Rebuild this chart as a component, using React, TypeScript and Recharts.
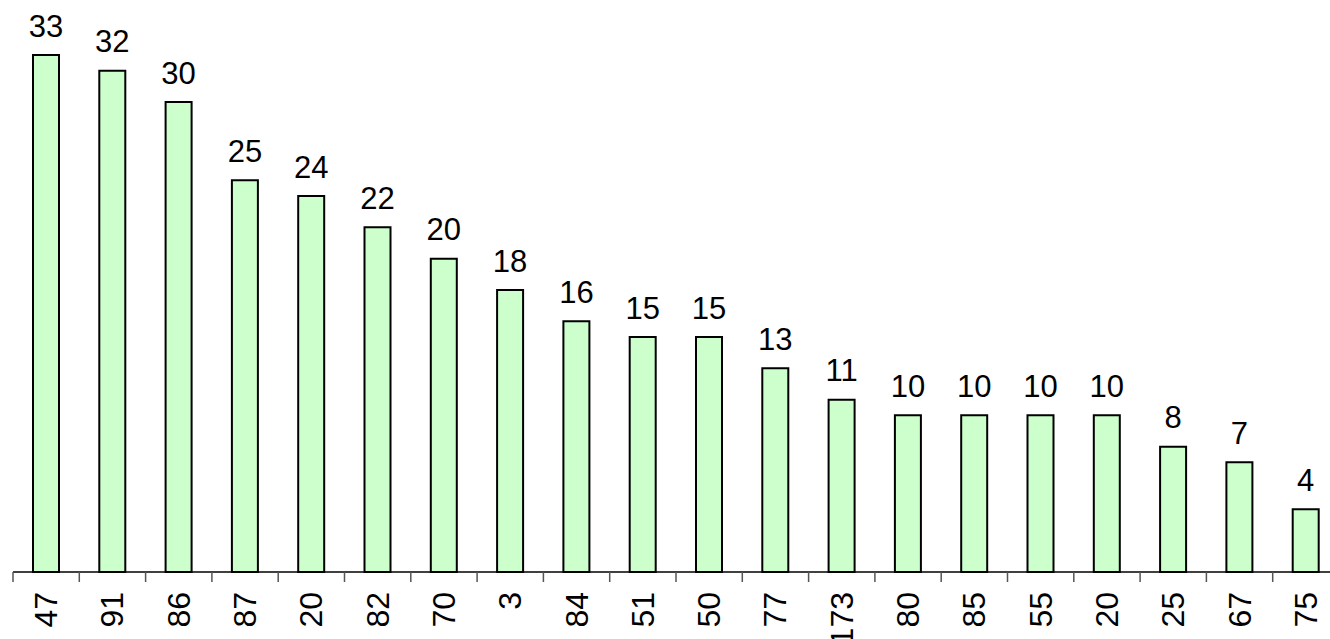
import { BarChart, Bar, XAxis, YAxis, LabelList } from 'recharts';

const categories = ['47', '91', '86', '87', '20', '82', '70', '3', '84', '51', '50', '77', '173', '80', '85', '55', '20', '25', '67', '75'];
const values = [33, 32, 30, 25, 24, 22, 20, 18, 16, 15, 15, 13, 11, 10, 10, 10, 10, 8, 7, 4];

const data = categories.map((cat, i) => ({ id: String(i), cat, value: values[i] }));

const FONT = 'Liberation Sans, Arial, sans-serif';
const PLOT_LEFT = 13;
const PLOT_WIDTH = 1326;
const BAND = PLOT_WIDTH / categories.length;

function CategoryTick(props: { x: number; y: number; index: number }) {
  const { x, y, index } = props;
  const label = categories[index];
  const left = x - BAND / 2;
  return (
    <g>
      <line x1={left} y1={y} x2={left} y2={y + 10} stroke="#555" strokeWidth={1.5} />
      {index === categories.length - 1 && (
        <line x1={x + BAND / 2} y1={y} x2={x + BAND / 2} y2={y + 10} stroke="#555" strokeWidth={1.5} />
      )}
      <text
        x={0}
        y={0}
        transform={`translate(${x + 11}, ${y + 20}) rotate(-90)`}
        textAnchor="end"
        fontFamily={FONT}
        fontSize={32}
        fill="#000"
      >
        {label}
      </text>
    </g>
  );
}

function ValueLabel(props: { x?: number; y?: number; width?: number; value?: number }) {
  const { x = 0, y = 0, width = 0, value } = props;
  return (
    <text x={x + width / 2} y={y - 18.5} textAnchor="middle" fontFamily={FONT} fontSize={31} fill="#000">
      {value}
    </text>
  );
}

export default function App() {
  return (
    <div style={{ position: 'absolute', left: 0, top: 0, width: 1330, height: 639, overflow: 'hidden', background: '#fff' }}>
      <BarChart
        width={PLOT_LEFT + PLOT_WIDTH}
        height={639}
        data={data}
        margin={{ top: 55, right: 0, bottom: 0, left: PLOT_LEFT }}
        barSize={26}
      >
        <XAxis
          dataKey="id"
          height={67}
          interval={0}
          tickSize={0}
          tickMargin={0}
          tickLine={false}
          axisLine={{ stroke: '#000', strokeWidth: 1.5 }}
          tick={(p: any) => <CategoryTick {...p} />}
        />
        <YAxis hide domain={[0, 33]} />
        <Bar dataKey="value" fill="#CCFFCC" stroke="#000" strokeWidth={2} isAnimationActive={false}>
          <LabelList dataKey="value" content={(p: any) => <ValueLabel {...p} />} />
        </Bar>
      </BarChart>
    </div>
  );
}
